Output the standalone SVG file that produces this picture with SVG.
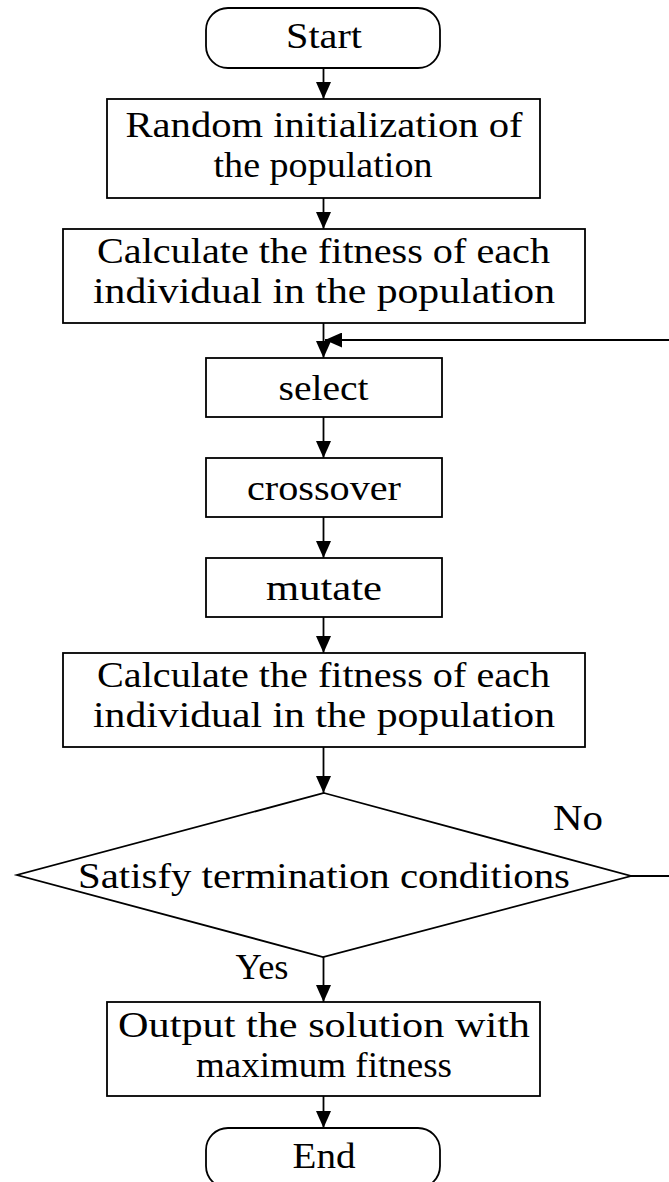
<svg xmlns="http://www.w3.org/2000/svg" width="669" height="1182" viewBox="0 0 669 1182">
  <style>
    .shape { fill: #ffffff; stroke: #000000; stroke-width: 1.8; }
    .edge { fill: none; stroke: #000000; stroke-width: 1.8; }
    .label { font-family: "Liberation Serif", "DejaVu Serif", serif; font-size: 35px; fill: #000000; text-anchor: middle; }
  </style>
  <defs>
    <marker id="arrow" viewBox="0 0 17 15" refX="17" refY="7.5" markerWidth="17" markerHeight="15" markerUnits="userSpaceOnUse" orient="auto">
      <path d="M0,0 L17,7.5 L0,15 Z" fill="#000000"/>
    </marker>
  </defs>
  <rect width="669" height="1182" fill="#ffffff"/>

  <!-- connectors -->
  <g id="connectors">
    <line class="edge" x1="323.5" y1="68" x2="323.5" y2="99" marker-end="url(#arrow)"/>
    <line class="edge" x1="323.5" y1="198" x2="323.5" y2="229" marker-end="url(#arrow)"/>
    <line class="edge" x1="323.5" y1="323" x2="323.5" y2="358" marker-end="url(#arrow)"/>
    <line class="edge" x1="669" y1="340" x2="325" y2="340" marker-end="url(#arrow)"/>
    <line class="edge" x1="323.5" y1="417" x2="323.5" y2="458" marker-end="url(#arrow)"/>
    <line class="edge" x1="323.5" y1="517" x2="323.5" y2="558" marker-end="url(#arrow)"/>
    <line class="edge" x1="323.5" y1="617" x2="323.5" y2="653" marker-end="url(#arrow)"/>
    <line class="edge" x1="323.5" y1="747" x2="323.5" y2="793" marker-end="url(#arrow)"/>
    <line class="edge" x1="631" y1="876" x2="669" y2="876"/>
    <line class="edge" x1="323.5" y1="957" x2="323.5" y2="1002" marker-end="url(#arrow)"/>
    <line class="edge" x1="323.5" y1="1096" x2="323.5" y2="1128" marker-end="url(#arrow)"/>
    <text class="label" x="578" y="830" textLength="50" lengthAdjust="spacingAndGlyphs">No</text>
    <text class="label" x="262" y="979" textLength="53" lengthAdjust="spacingAndGlyphs">Yes</text>
  </g>

  <g id="start">
    <rect class="shape" x="206" y="8" width="234" height="60" rx="22" ry="22"/>
    <text class="label" x="324" y="48" textLength="76" lengthAdjust="spacingAndGlyphs">Start</text>
  </g>

  <g id="init">
    <rect class="shape" x="107" y="99" width="433" height="99"/>
    <text class="label" x="324" y="137" textLength="397" lengthAdjust="spacingAndGlyphs">Random initialization of</text>
    <text class="label" x="323" y="177" textLength="219" lengthAdjust="spacingAndGlyphs">the population</text>
  </g>

  <g id="fitness1">
    <rect class="shape" x="63" y="229" width="522" height="94"/>
    <text class="label" x="323.5" y="263" textLength="453" lengthAdjust="spacingAndGlyphs">Calculate the fitness of each</text>
    <text class="label" x="324" y="303" textLength="462" lengthAdjust="spacingAndGlyphs">individual in the population</text>
  </g>

  <g id="select">
    <rect class="shape" x="206" y="358" width="236" height="59"/>
    <text class="label" x="323.5" y="400" textLength="90" lengthAdjust="spacingAndGlyphs">select</text>
  </g>

  <g id="crossover">
    <rect class="shape" x="206" y="458" width="236" height="59"/>
    <text class="label" x="324" y="500" textLength="154" lengthAdjust="spacingAndGlyphs">crossover</text>
  </g>

  <g id="mutate">
    <rect class="shape" x="206" y="558" width="236" height="59"/>
    <text class="label" x="324" y="600" textLength="116" lengthAdjust="spacingAndGlyphs">mutate</text>
  </g>

  <g id="fitness2">
    <rect class="shape" x="63" y="653" width="522" height="94"/>
    <text class="label" x="323.5" y="687" textLength="453" lengthAdjust="spacingAndGlyphs">Calculate the fitness of each</text>
    <text class="label" x="324" y="727" textLength="462" lengthAdjust="spacingAndGlyphs">individual in the population</text>
  </g>

  <g id="decision">
    <polygon class="shape" points="324,793 631,876 323,957 17,875"/>
    <text class="label" x="324" y="888" textLength="492" lengthAdjust="spacingAndGlyphs">Satisfy termination conditions</text>
  </g>

  <g id="output">
    <rect class="shape" x="107" y="1002" width="433" height="94"/>
    <text class="label" x="324" y="1037" textLength="412" lengthAdjust="spacingAndGlyphs">Output the solution with</text>
    <text class="label" x="324" y="1077" textLength="256" lengthAdjust="spacingAndGlyphs">maximum fitness</text>
  </g>

  <g id="end">
    <rect class="shape" x="206" y="1128" width="234" height="60" rx="22" ry="22"/>
    <text class="label" x="324" y="1168" textLength="63" lengthAdjust="spacingAndGlyphs">End</text>
  </g>
</svg>
